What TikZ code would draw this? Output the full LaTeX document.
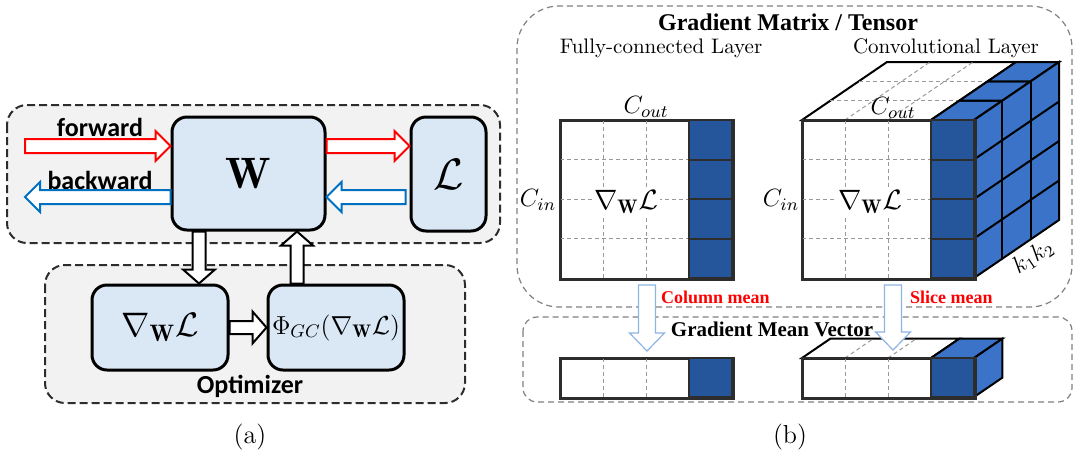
\RequirePackage{fix-cm}
\documentclass[tikz,border=0pt]{standalone}
\usepackage{fontspec}
\newfontfamily\labelfont{Carlito}
\newfontfamily\timesfont{Liberation Serif}
\usetikzlibrary{calc}
\definecolor{boxblue}{RGB}{218,232,246}
\definecolor{panelgrey}{RGB}{242,242,242}
\definecolor{fwdred}{RGB}{255,0,0}
\definecolor{bwdblue}{RGB}{0,112,192}
\definecolor{darkcell}{RGB}{37,85,155}
\definecolor{lightcell}{RGB}{58,115,200}
\definecolor{meanblue}{RGB}{142,180,227}
\definecolor{edgegrey}{RGB}{45,45,45}
\tikzset{
  local/.style={shift={(\p1)},rotate=\n1},
  fat/.style n args={3}{to path={let \p1=(\tikztostart),\p2=(\tikztotarget),
    \n1={atan2(\y2-\y1,\x2-\x1)},\n2={veclen(\x2-\x1,\y2-\y1)} in
    ([local]0pt,#1) -- ([local]{\n2*1pt-#3},#1) -- ([local]{\n2*1pt-#3},#2)
    -- ([local]{\n2*1pt},0pt) -- ([local]{\n2*1pt-#3},-#2) -- ([local]{\n2*1pt-#3},-#1)
    -- ([local]0pt,-#1) -- cycle}},
  redarrow/.style={draw=fwdred,fill=white,line width=1pt,fat={3.5pt}{7.5pt}{7.5pt}},
  bluearrow/.style={draw=bwdblue,fill=white,line width=1pt,fat={3.5pt}{7.5pt}{7.5pt}},
  blackarrow/.style={draw=black,fill=white,line width=1pt,fat={3.25pt}{8pt}{7pt}},
  meanarrow/.style={draw=meanblue,fill=white,line width=0.6pt,fat={4.25pt}{8.75pt}{9pt}},
  apanel/.style={draw=edgegrey,fill=panelgrey,line width=1pt,dash pattern=on 4pt off 2pt,rounded corners=10pt},
  bpanel/.style={draw=gray,line width=0.6pt,dash pattern=on 3pt off 2pt},
  wbox/.style={draw=black,fill=boxblue,line width=1.5pt,rounded corners=7.5pt,inner sep=1pt},
  alabel/.style={font=\labelfont\bfseries\fontsize{13}{15}\selectfont},
  btitle/.style={font=\timesfont\bfseries\fontsize{12}{14}\selectfont},
  mlabel/.style={font=\timesfont\bfseries\fontsize{9}{11}\selectfont,text=fwdred,anchor=west},
  gridline/.style={draw=gray!80,line width=0.5pt,dash pattern=on 2pt off 1.5pt},
  edge/.style={draw=black,line width=1pt},
  matbox/.style={draw=edgegrey,line width=1pt,fill=white,anchor=north west,inner sep=0pt}
}
\begin{document}
\begin{tikzpicture}[x=0.5pt,y=-0.5pt]
\useasboundingbox (0,0) rectangle (1080,456);
% (a)
\draw[apanel] (7,105) rectangle (500,243);
\draw[apanel] (45,265) rectangle (465,403);
\node[wbox,minimum width=76.5pt,minimum height=56.5pt,font=\fontsize{22}{26}\selectfont] (W) at (248.5,173.5) {$\mathbf{W}$};
\node[wbox,minimum width=37.5pt,minimum height=57pt,font=\fontsize{22}{26}\selectfont] (L) at (448.5,174) {$\mathcal{L}$};
\node[wbox,minimum width=68pt,minimum height=42.5pt,font=\fontsize{17}{20}\selectfont] (G) at (160,327.5) {$\nabla_{\mathbf{W}}\mathcal{L}$};
\node[wbox,minimum width=68pt,minimum height=42.5pt,font=\fontsize{13}{16}\selectfont] (P) at (336,327.5) {$\Phi_{GC}(\nabla_{\mathbf{W}}\mathcal{L})$};
\node[alabel] (fwdlab) at (100,127) {forward};
\node[alabel] (bwdlab) at (100,180) {backward};
\node[alabel] (optlab) at (250,386) {Optimizer};
\coordinate (fin) at (25,146);
\coordinate (bout) at (25,197);
\coordinate (xdn) at (199,0);
\coordinate (xup) at (297,0);
\draw[redarrow] (fin) to (fin -| W.west);
\draw[redarrow] (fin -| W.east) to (fin -| L.west);
\draw[bluearrow] (W.west |- bout) to (bout);
\draw[bluearrow] ([xshift=-2pt]L.west |- bout) to (W.east |- bout);
\draw[blackarrow] (W.south -| xdn) to (G.north -| xdn);
\draw[blackarrow] (P.north -| xup) to (W.south -| xup);
\draw[blackarrow] (G.east) to (P.west);
\node[font=\fontsize{13}{16}\selectfont] (alab) at (250,437) {(a)};
% (b)
\draw[bpanel,rounded corners=21pt] (517,6) rectangle (1072,307);
\draw[bpanel,rounded corners=7pt] (523,317) rectangle (1072,402);
\node[btitle] (title) at (788,22) {Gradient Matrix / Tensor};
\node[font=\fontsize{10.5}{12}\selectfont] (fclab) at (661,48) {Fully-connected Layer};
\node[font=\fontsize{10.5}{12}\selectfont] (cvlab) at (946,48) {Convolutional Layer};
% fully-connected matrix
\node[matbox,minimum width=86pt,minimum height=79pt] (fcmat) at (560,120) {};
\foreach \i in {1,2} \draw[gridline] (560+43*\i,120) -- (560+43*\i,278);
\foreach \j in {1,2,3} \draw[gridline] (560,120+39.5*\j) -- (689,120+39.5*\j);
\foreach \j in {0,...,3} \draw[draw=edgegrey,line width=1pt,fill=darkcell] (689,120+39.5*\j) rectangle (732,159.5+39.5*\j);
\draw[draw=edgegrey,line width=1pt] (fcmat.north west) rectangle (fcmat.south east);
\node[font=\fontsize{14}{16}\selectfont,fill=white,inner sep=1pt] (fcgrad) at (626,202) {$\nabla_{\mathbf{W}}\mathcal{L}$};
\node[font=\fontsize{12.5}{14}\selectfont,inner sep=1pt] (fcin) at (538,200) {$C_{in}$};
\node[font=\fontsize{12.5}{14}\selectfont] (fcout) at (646,107) {$C_{out}$};
% convolutional tensor
\node[matbox,minimum width=86pt,minimum height=79pt] (cvmat) at (802,120) {};
\draw[edge,fill=white] (802,120) -- ++(85,-58) -- ++(129,0) -- (931,120) -- cycle;
\foreach \k in {1,2} \draw[gridline] (802+28.33*\k,120-19.33*\k) -- ++(129,0);
\foreach \i in {1,2} \draw[gridline] (802+43*\i,120) -- ++(85,-58);
\foreach \k in {0,1,2} \draw[edge,fill=lightcell] (931+28.33*\k,120-19.33*\k) -- ++(43,0) -- ++(28.33,-19.33) -- ++(-43,0) -- cycle;
\draw[edge,fill=lightcell] (974,120) -- ++(85,-58) -- ++(0,158) -- ++(-85,58) -- cycle;
\foreach \k in {1,2} \draw[edge] (974+28.33*\k,120-19.33*\k) -- ++(0,158);
\foreach \j in {1,2,3} \draw[edge] (974,120+39.5*\j) -- ++(85,-58);
\foreach \i in {1,2} \draw[gridline] (802+43*\i,120) -- (802+43*\i,278);
\foreach \j in {1,2,3} \draw[gridline] (802,120+39.5*\j) -- (931,120+39.5*\j);
\foreach \j in {0,...,3} \draw[draw=edgegrey,line width=1pt,fill=darkcell] (931,120+39.5*\j) rectangle (974,159.5+39.5*\j);
\draw[draw=edgegrey,line width=1pt] (cvmat.north west) rectangle (cvmat.south east);
\node[font=\fontsize{14}{16}\selectfont,fill=white,inner sep=1pt] (cvgrad) at (870,202) {$\nabla_{\mathbf{W}}\mathcal{L}$};
\node[font=\fontsize{12.5}{14}\selectfont,inner sep=1pt] (cvin) at (781,200) {$C_{in}$};
\node[font=\fontsize{12.5}{14}\selectfont] (cvout) at (893,108) {$C_{out}$};
\node[font=\fontsize{12}{14}\selectfont,rotate=34] (cvk) at (1033,257) {$k_1k_2$};
% mean vectors
\node[matbox,minimum width=86pt,minimum height=19.5pt] (fcvec) at (560,358) {};
\foreach \i in {1,2} \draw[gridline] (560+43*\i,358) -- (560+43*\i,397);
\draw[draw=edgegrey,line width=1pt,fill=darkcell] (689,358) rectangle (732,397);
\draw[draw=edgegrey,line width=1pt] (fcvec.north west) rectangle (fcvec.south east);
\node[matbox,minimum width=86pt,minimum height=19.5pt] (cvvec) at (802,358) {};
\draw[edge,fill=white] (802,358) -- ++(28.33,-19.33) -- ++(129,0) -- (931,358) -- cycle;
\foreach \i in {1,2} \draw[gridline] (802+43*\i,358) -- ++(28.33,-19.33);
\draw[edge,fill=lightcell] (931,358) -- ++(28.33,-19.33) -- ++(43,0) -- (974,358) -- cycle;
\draw[edge,fill=lightcell] (974,358) -- ++(28.33,-19.33) -- ++(0,39) -- ++(-28.33,19.33) -- cycle;
\foreach \i in {1,2} \draw[gridline] (802+43*\i,358) -- (802+43*\i,397);
\draw[draw=edgegrey,line width=1pt,fill=darkcell] (931,358) rectangle (974,397);
\draw[draw=edgegrey,line width=1pt] (cvvec.north west) rectangle (cvvec.south east);
\node[font=\timesfont\bfseries\fontsize{10.5}{12}\selectfont] (mvlab) at (772,329) {Gradient Mean Vector};
\draw[meanarrow] ([yshift=-2.5pt]fcmat.south) to ([yshift=3.5pt]fcvec.north);
\draw[meanarrow] ([yshift=-2.5pt,xshift=2pt]cvmat.south) to ([yshift=4pt,xshift=2pt]cvvec.north);
\node[mlabel] (colmean) at (654,297) {Column mean};
\node[mlabel] (slicemean) at (903,297) {Slice mean};
\node[font=\fontsize{13}{16}\selectfont] (blab) at (790,437) {(b)};
\end{tikzpicture}
\end{document}
